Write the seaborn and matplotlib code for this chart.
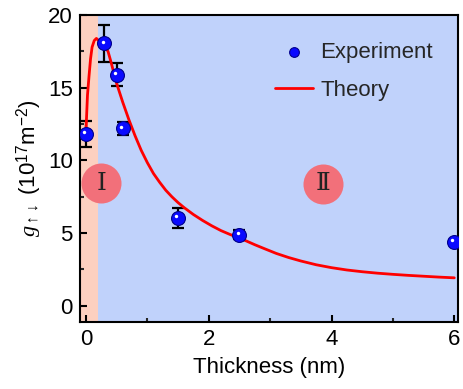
import numpy as np
import pandas as pd
import seaborn as sns
import matplotlib.pyplot as plt
from matplotlib import transforms

# experiment points (thickness in nm, g in 1e17 m^-2)
exp_thickness = [0.0, 0.3, 0.5, 0.6, 1.5, 2.5, 6.0]
exp_g = [11.8, 18.05, 15.9, 12.2, 6.05, 4.9, 4.4]
exp_err = [0.9, 1.25, 0.8, 0.45, 0.7, 0.3, 0.15]

# theory curve
theory_thickness = [0.0, 0.01, 0.025, 0.05, 0.075, 0.1, 0.135, 0.17, 0.22, 0.3,
                    0.36, 0.4, 0.5, 0.6, 0.7, 0.8, 0.9, 1.0, 1.1, 1.2,
                    1.3, 1.4, 1.5, 1.6, 1.75, 1.9, 2.05, 2.2, 2.35, 2.45,
                    2.6, 2.75, 2.9, 3.1, 3.3, 3.5, 3.75, 4.0, 4.25, 4.5,
                    4.75, 5.0, 5.25, 5.5, 5.75, 6.0]
theory_g = [11.9, 13.0, 14.5, 15.8, 17.0, 17.8, 18.25, 18.4, 18.2, 17.9,
            17.5, 16.9, 15.3, 14.0, 12.8, 11.7, 10.7, 9.85, 9.1, 8.5,
            7.95, 7.5, 7.1, 6.75, 6.28, 5.87, 5.5, 5.17, 4.9, 4.74,
            4.48, 4.2, 3.94, 3.6, 3.32, 3.08, 2.82, 2.62, 2.46, 2.34,
            2.24, 2.16, 2.09, 2.03, 1.97, 1.92]

region_split = 0.2

sns.set_theme(style="ticks")
plt.rcParams['font.family'] = ['Liberation Sans', 'DejaVu Sans']
plt.rcParams['mathtext.fontset'] = 'custom'
plt.rcParams['mathtext.rm'] = 'Liberation Sans'
plt.rcParams['mathtext.it'] = 'Liberation Serif:italic'

exp_df = pd.DataFrame({"Thickness": exp_thickness, "g": exp_g, "err": exp_err})
th_df = pd.DataFrame({"Thickness": theory_thickness, "g": theory_g})

fig = plt.figure(figsize=(4.64, 3.89), dpi=100)
ax = fig.add_axes([0.172, 0.173, 0.815, 0.788])

xmin, xmax = -0.1, 6.06
ymin, ymax = -1.1, 20
ax.axvspan(xmin, region_split, color="#FCD0C0", zorder=0, lw=0)
ax.axvspan(region_split, xmax, color="#C0D2FB", zorder=0, lw=0)

# region markers
ax.scatter([0.25, 3.86], [8.45, 8.4], s=830, color="#F2707A", zorder=1, lw=0)
for xc, lab in [(0.25, "\u2160"), (3.86, "\u2161")]:
    ax.text(xc, 8.4, lab, ha="center", va="center", fontsize=18,
            family=['DejaVu Serif', 'Noto Sans CJK SC'], color="#222222", zorder=2)

ax.errorbar(exp_df["Thickness"], exp_df["g"], yerr=exp_df["err"], fmt="none",
            ecolor="black", elinewidth=1.6, capsize=4, capthick=1.6, zorder=3)
sns.scatterplot(data=exp_df, x="Thickness", y="g", ax=ax, s=100, color="#0a0aff",
                edgecolor="#00008a", linewidth=0.8, zorder=4, label="Experiment")
hl = transforms.offset_copy(ax.transData, fig=fig, x=-1.3, y=1.3, units="points")
ax.scatter(exp_df["Thickness"], exp_df["g"], s=6, color="white", lw=0,
           zorder=5, transform=hl)
sns.lineplot(data=th_df, x="Thickness", y="g", ax=ax, color="red", lw=2.0,
             zorder=3, label="Theory", sort=False)

ax.set_xlim(xmin, xmax)
ax.set_ylim(ymin, ymax)
ax.set_xticks([0, 2, 4, 6])
ax.set_xticks([1, 3, 5], minor=True)
ax.set_yticks([0, 5, 10, 15, 20])
ax.set_yticks([2.5, 7.5, 12.5, 17.5], minor=True)
ax.tick_params(axis="both", which="major", direction="in", length=5, width=1.5,
               labelsize=16, pad=5, color="black", labelcolor="black")
ax.tick_params(axis="both", which="minor", direction="in", length=3, width=1.5)
for sp in ax.spines.values():
    sp.set_linewidth(1.5)
    sp.set_color("black")

ax.set_xlabel("Thickness (nm)", fontsize=16, labelpad=5, color="black")
ax.set_ylabel(r"$g_{\uparrow\downarrow}$ (10$^{17}$m$^{-2}$)", fontsize=16,
              labelpad=3, color="black")

leg = ax.legend(loc="upper left", bbox_to_anchor=(0.515, 0.912), frameon=False,
                fontsize=16, handlelength=1.75, handletextpad=0.3,
                labelspacing=0.75, borderpad=0, borderaxespad=0, markerscale=0.7)

fig.savefig("out.png", dpi=100)
